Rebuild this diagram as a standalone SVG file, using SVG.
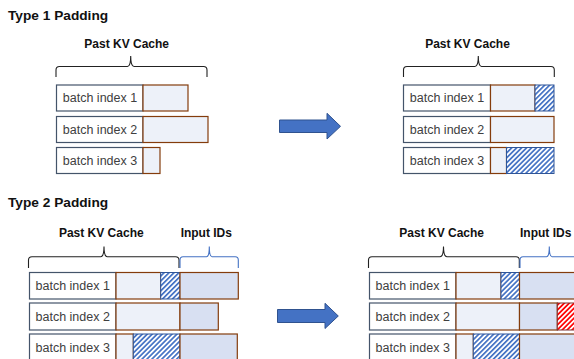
<svg xmlns="http://www.w3.org/2000/svg" width="574" height="359" viewBox="0 0 574 359">
<defs>
<pattern id="hb" patternUnits="userSpaceOnUse" width="3.5" height="3.5" patternTransform="rotate(45)">
<rect width="3.5" height="3.5" fill="#ffffff"/>
<rect x="0" y="0" width="1.7" height="3.5" fill="#4472C4"/>
</pattern>
<pattern id="hr" patternUnits="userSpaceOnUse" width="3.5" height="3.5" patternTransform="rotate(45)">
<rect width="3.5" height="3.5" fill="#ffffff"/>
<rect x="0" y="0" width="1.7" height="3.5" fill="#FF0000"/>
</pattern>
</defs>
<style>
.title{font-family:"Liberation Sans",Arial,sans-serif;font-weight:bold;font-size:13.7px;fill:#111}
.lbl{font-family:"Liberation Sans",Arial,sans-serif;font-weight:bold;font-size:12px;fill:#111;text-anchor:middle}
.bt{font-family:"Liberation Sans",Arial,sans-serif;font-size:12.5px;fill:#404040;text-anchor:middle}
.w{fill:#ffffff;stroke:#44546A;stroke-width:1.2}
.c{fill:#EDF1F9;stroke:#843C0C;stroke-width:1.2}
.in{fill:#D8E0F2;stroke:#843C0C;stroke-width:1.2}
.hb{fill:url(#hb);stroke:#2F5597;stroke-width:1}
.hr{fill:url(#hr);stroke:#7F3030;stroke-width:1}
.br{fill:none;stroke:#222;stroke-width:1.1}
.bb{fill:none;stroke:#4472C4;stroke-width:1.1}
.arr{fill:#4472C4;stroke:#2F528F;stroke-width:1}
</style>
<text class="title" x="8" y="19.7">Type 1 Padding</text>
<text class="title" x="8" y="206.7">Type 2 Padding</text>
<g id="connectors">
<path class="arr" d="M279.5,120 H327 V113.3 L340.5,126.3 L327,139 V132.5 H279.5 Z"/>
<path class="arr" d="M277.5,309.5 H325 V303.3 L338.3,316 L325,328.5 V322.5 H277.5 Z"/>
</g>
<g id="t1-left">
<text class="lbl" x="126.7" y="48.3">Past KV Cache</text>
<path class="br" d="M56,77 V70 Q56,66.5 59.5,66.5 H127.5 Q130.7,66.5 130.7,56 Q130.7,66.5 134,66.5 H203.5 Q207,66.5 207,70 V77"/>
<rect class="w" x="56.5" y="85" width="86.5" height="26"/>
<rect class="c" x="143" y="85" width="45" height="26"/>
<text class="bt" x="100" y="102.3">batch index 1</text>
<rect class="w" x="56.5" y="116.5" width="86.5" height="26"/>
<rect class="c" x="143" y="116.5" width="65" height="26"/>
<text class="bt" x="100" y="133.8">batch index 2</text>
<rect class="w" x="56.5" y="147.5" width="86.5" height="26"/>
<rect class="c" x="143" y="147.5" width="17" height="26"/>
<text class="bt" x="100" y="164.8">batch index 3</text>
</g>
<g id="t1-right">
<text class="lbl" x="467.5" y="48.3">Past KV Cache</text>
<path class="br" d="M403.5,77 V70 Q403.5,66.5 407,66.5 H475 Q478.3,66.5 478.3,56 Q478.3,66.5 481.5,66.5 H551 Q554.3,66.5 554.3,70 V77"/>
<rect class="w" x="403.5" y="85" width="87" height="26"/>
<rect class="c" x="490.5" y="85" width="44.5" height="26"/>
<rect class="hb" x="535" y="85" width="19" height="26"/>
<text class="bt" x="447" y="102.3">batch index 1</text>
<rect class="w" x="403.5" y="116.5" width="87" height="26"/>
<rect class="c" x="490.5" y="116.5" width="63.5" height="26"/>
<text class="bt" x="447" y="133.8">batch index 2</text>
<rect class="w" x="403.5" y="147.5" width="87" height="26"/>
<rect class="c" x="490.5" y="147.5" width="16" height="26"/>
<rect class="hb" x="506.5" y="147.5" width="47.5" height="26"/>
<text class="bt" x="447" y="164.8">batch index 3</text>
</g>
<g id="t2-left">
<text class="lbl" x="101.3" y="236.7">Past KV Cache</text>
<text class="lbl" x="206.3" y="236.7">Input IDs</text>
<path class="br" d="M28.5,268 V260 Q28.5,256.7 32,256.7 H100.7 Q104,256.7 104,246.5 Q104,256.7 107.3,256.7 H175.5 Q179,256.7 179,260 V268"/>
<path class="bb" d="M180,268 V260 Q180,256.7 183,256.7 H206.5 Q209.3,256.7 209.3,246.5 Q209.3,256.7 212,256.7 H235.3 Q238.3,256.7 238.3,260 V268"/>
<rect class="w" x="29.5" y="272.5" width="86.5" height="26.5"/>
<rect class="c" x="116" y="272.5" width="44.7" height="26.5"/>
<rect class="hb" x="160.7" y="272.5" width="19.3" height="26.5"/>
<rect class="in" x="180" y="272.5" width="58.3" height="26.5"/>
<text class="bt" x="72.7" y="290">batch index 1</text>
<rect class="w" x="29.5" y="303" width="86.5" height="27"/>
<rect class="c" x="116" y="303" width="64" height="27"/>
<rect class="in" x="180" y="303" width="38.3" height="27"/>
<text class="bt" x="72.7" y="320.8">batch index 2</text>
<rect class="w" x="29.5" y="334" width="86.5" height="27"/>
<rect class="c" x="116" y="334" width="17.3" height="27"/>
<rect class="hb" x="133.3" y="334" width="46.7" height="27"/>
<rect class="in" x="180" y="334" width="57.3" height="27"/>
<text class="bt" x="72.7" y="352">batch index 3</text>
</g>
<g id="t2-right">
<text class="lbl" x="441.7" y="236.7">Past KV Cache</text>
<text class="lbl" x="545.7" y="236.7">Input IDs</text>
<path class="br" d="M368.5,268 V260 Q368.5,256.7 372,256.7 H440 Q443.5,256.7 443.5,246.5 Q443.5,256.7 447,256.7 H516 Q519.3,256.7 519.3,260 V268"/>
<path class="bb" d="M520,268 V260 Q520,256.7 523,256.7 H546.5 Q549.3,256.7 549.3,246.5 Q549.3,256.7 552,256.7 H580"/>
<rect class="w" x="369.5" y="272.5" width="86.5" height="26.5"/>
<rect class="c" x="456" y="272.5" width="45" height="26.5"/>
<rect class="hb" x="501" y="272.5" width="18.5" height="26.5"/>
<rect class="in" x="519.5" y="272.5" width="60" height="26.5"/>
<text class="bt" x="412.7" y="290">batch index 1</text>
<rect class="w" x="369.5" y="303" width="86.5" height="27"/>
<rect class="c" x="456" y="303" width="63.5" height="27"/>
<rect class="in" x="519.5" y="303" width="37.8" height="27"/>
<rect class="hr" x="557.3" y="303" width="22" height="27"/>
<text class="bt" x="412.7" y="320.8">batch index 2</text>
<rect class="w" x="369.5" y="334" width="86.5" height="27"/>
<rect class="c" x="456" y="334" width="17.3" height="27"/>
<rect class="hb" x="473.3" y="334" width="46.2" height="27"/>
<rect class="in" x="519.5" y="334" width="60" height="27"/>
<text class="bt" x="412.7" y="352">batch index 3</text>
</g>
</svg>
